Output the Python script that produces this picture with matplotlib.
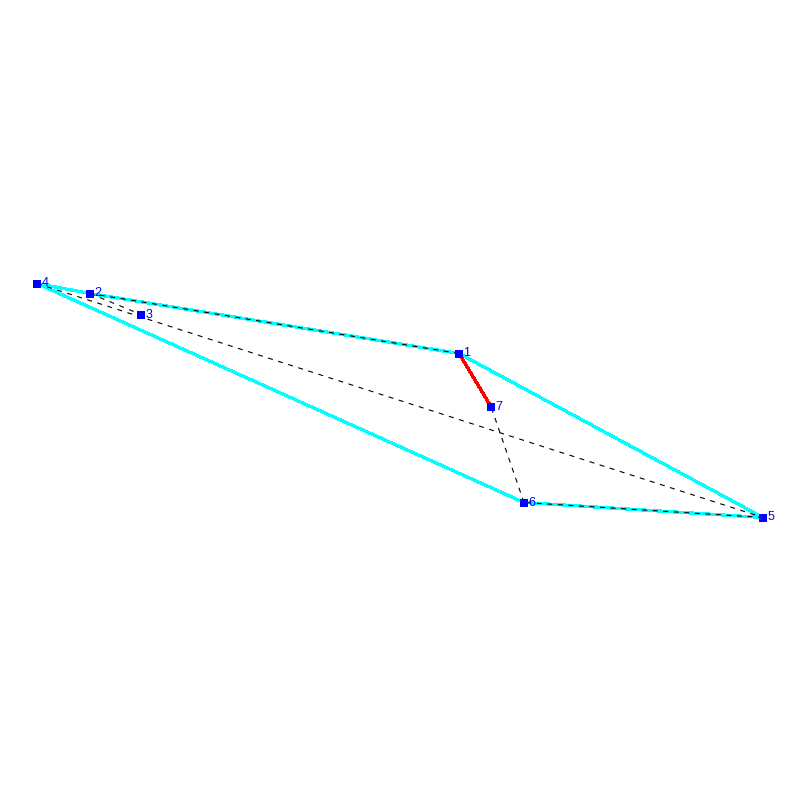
"""Network graph of seven nodes with hull, tour and highlighted edge."""

import matplotlib
matplotlib.use("Agg")
import matplotlib.pyplot as plt

node_ids = [1, 2, 3, 4, 5, 6, 7]
node_x = [459, 90, 141, 37, 763, 524, 491]
node_y = [353, 293, 314, 283, 517, 502, 406]

hull_edges = [(4, 2), (2, 1), (1, 5), (5, 6), (6, 4)]
dashed_edges = [(1, 2), (2, 3), (4, 5), (5, 6), (6, 7)]
red_edges = [(1, 7)]

plt.rcParams["font.family"] = "Liberation Sans"

fig = plt.figure(figsize=(8, 8), dpi=100)
ax = fig.add_axes([0, 0, 1, 1])
ax.set_xlim(0, 800)
ax.set_ylim(799.5, -0.5)
ax.axis("off")


def draw_edges(edges, aa=False, **style):
    for a, b in edges:
        i, j = node_ids.index(a), node_ids.index(b)
        ax.plot([node_x[i], node_x[j]], [node_y[i], node_y[j]], antialiased=aa, **style)


draw_edges(hull_edges, color="#00ffff", lw=1.6, solid_capstyle="butt", zorder=1)
draw_edges(dashed_edges, aa=True, color="black", lw=0.8, ls=(0, (4.5, 5)), dash_capstyle="butt", zorder=2)
draw_edges(red_edges, color="#ff0000", lw=1.6, solid_capstyle="butt", zorder=3)

ax.plot(node_x, node_y, ls="none", marker="s", ms=5.8, mfc="#0000ff", mec="#0000ff", mew=0, zorder=4)
for n, x, y in zip(node_ids, node_x, node_y):
    ax.text(x + 4.5, y, str(n), color="#0000ff", fontsize=9, ha="left", va="center", zorder=5)

fig.savefig("out.png", dpi=100, facecolor="white")
